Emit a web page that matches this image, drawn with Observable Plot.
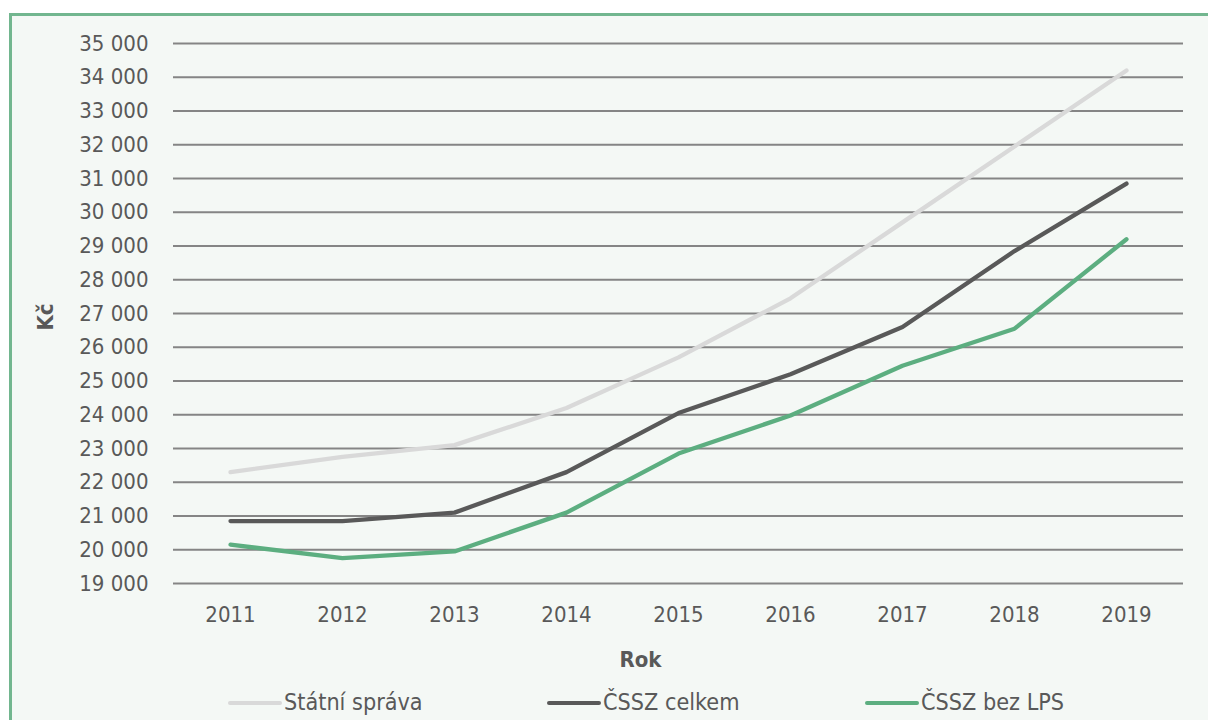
<!DOCTYPE html>
<html>
<head>
<meta charset="utf-8">
<script src="https://cdn.jsdelivr.net/npm/d3@7"></script>
<script src="https://cdn.jsdelivr.net/npm/@observablehq/plot@0.6"></script>
<style>
  html, body { margin: 0; padding: 0; background: #ffffff; overflow: hidden; width: 1208px; height: 720px; }
  #frame { position: absolute; left: 9px; top: 13px; width: 1300px; height: 800px; border: 3px solid #72b68f; background: #f4f8f5; }
  #chart { position: absolute; left: 0; top: 0; }
  #legend { position: absolute; left: 228px; top: 688px; display: grid; grid-template-columns: 319px 318px 319px; font-family: "DejaVu Sans Condensed", "DejaVu Sans", sans-serif; font-size: 23.2px; color: #595959; white-space: nowrap; }
  .item { display: flex; align-items: center; }
  .swatch { width: 54px; height: 4px; border-radius: 2px; margin-right: 2px; margin-top: 2px; flex: none; }
</style>
</head>
<body>
<div id="frame"></div>
<div id="chart"></div>
<div id="legend"></div>
<script>
const years = [2011, 2012, 2013, 2014, 2015, 2016, 2017, 2018, 2019];
const seriesNames = ["Státní správa", "ČSSZ celkem", "ČSSZ bez LPS"];
const seriesColors = ["#d9d9d9", "#595959", "#5cae80"];
const statniSprava = [22300, 22750, 23100, 24200, 25700, 27450, 29700, 31950, 34200];
const cssCelkem = [20850, 20850, 21100, 22300, 24050, 25200, 26600, 28850, 30850];
const cssBezLPS = [20150, 19750, 19950, 21100, 22850, 23980, 25450, 26550, 29200];
const yTicks = d3.range(19000, 35001, 1000);
const xLabel = "Rok";
const yLabel = "Kč";

const seriesValues = [statniSprava, cssCelkem, cssBezLPS];
const data = [];
seriesNames.forEach((name, i) => {
  years.forEach((yr, j) => data.push({series: name, year: yr, value: seriesValues[i][j]}));
});

const font = '"DejaVu Sans Condensed", "DejaVu Sans", sans-serif';
const fmt = d => d3.format(",")(d).replace(/,/g, " ");

const chart = Plot.plot({
  width: 1208,
  height: 720,
  marginLeft: 173,
  marginRight: 25,
  marginTop: 43,
  marginBottom: 137,
  style: { background: "transparent", fontFamily: font, fontSize: "22px", color: "#595959" },
  x: { type: "point", domain: years, padding: 0.5 },
  y: { domain: [19000, 35000] },
  color: { domain: seriesNames, range: seriesColors },
  marks: [
    Plot.ruleY(yTicks, { stroke: "#858585", strokeWidth: 2 }),
    Plot.axisY({ ticks: yTicks, tickFormat: fmt, tickSize: 0, tickPadding: 25, label: null, fill: "#595959", fontSize: 22 }),
    Plot.axisX({ tickFormat: d => String(d), tickSize: 0, tickPadding: 23, label: null, fill: "#595959", fontSize: 22 }),
    Plot.line(data, { x: "year", y: "value", z: "series", stroke: "series", strokeWidth: 4.3, strokeLinejoin: "round", strokeLinecap: "round" }),
    Plot.text([xLabel], { frameAnchor: "bottom", dx: -38, dy: 83, fontWeight: "bold", fontSize: 22, fill: "#595959" }),
    Plot.text([yLabel], { frameAnchor: "left", rotate: -90, dx: -128, dy: 17, fontWeight: "bold", fontSize: 22, fill: "#595959" })
  ]
});
document.getElementById("chart").appendChild(chart);

const legend = document.getElementById("legend");
seriesNames.forEach((name, i) => {
  const item = document.createElement("div");
  item.className = "item";
  const sw = document.createElement("span");
  sw.className = "swatch";
  sw.style.background = seriesColors[i];
  const t = document.createElement("span");
  t.textContent = name;
  item.appendChild(sw);
  item.appendChild(t);
  legend.appendChild(item);
});
</script>
</body>
</html>
